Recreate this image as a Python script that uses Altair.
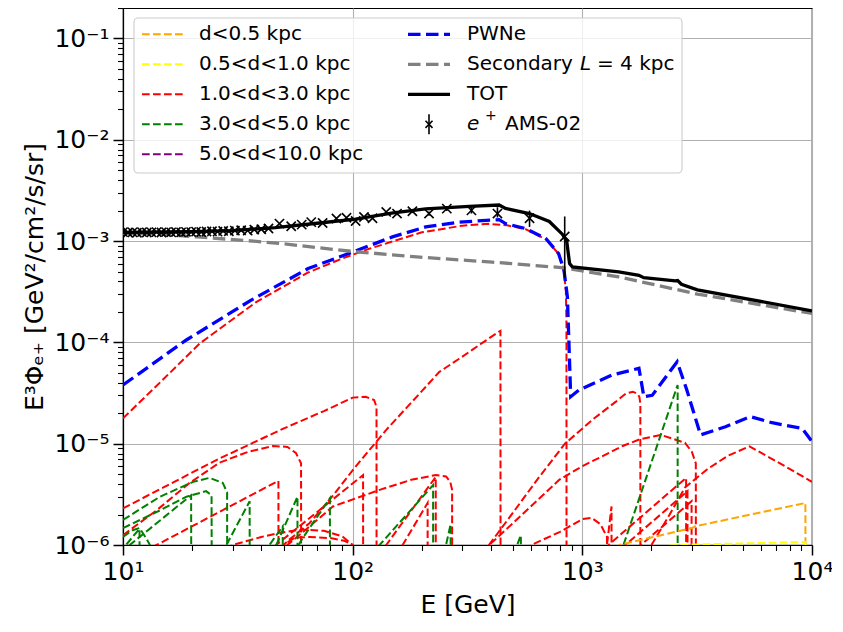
import altair as alt
import pandas as pd

FONT = "DejaVu Sans"

# ---------------- data ----------------
# total model (black)
tot = [(10, 1.22e-3), (20, 1.24e-3), (30, 1.27e-3), (46, 1.36e-3), (70, 1.5e-3), (103, 1.65e-3),
       (150, 1.9e-3), (208, 2.08e-3), (322, 2.2e-3), (434, 2.27e-3), (463, 2.1e-3), (588, 1.87e-3),
       (718, 1.56e-3), (818, 1.17e-3), (855, 1.0e-3), (880, 6.0e-4), (905, 5.56e-4), (1440, 4.97e-4),
       (1764, 4.6e-4), (1850, 4.35e-4), (2540, 4.05e-4), (2600, 4.08e-4), (2700, 3.75e-4),
       (3170, 3.3e-4), (10000, 2.05e-4)]

# secondary positrons (grey)
secondary = [(10, 1.2e-3), (15, 1.17e-3), (21, 1.1e-3), (37, 1.0e-3), (50, 9.4e-4), (100, 7.9e-4),
             (196, 6.95e-4), (405, 6.2e-4), (810, 5.48e-4), (1440, 4.43e-4), (3170, 3.0e-4),
             (10000, 1.93e-4)]

# sum of PWNe (blue)
pwne = [(10, 3.8e-5), (18.8, 1.05e-4), (36, 2.6e-4), (64, 5.36e-4), (100, 7.8e-4), (149, 1.1e-3),
        (208, 1.38e-3), (291, 1.54e-3), (434, 1.63e-3), (463, 1.49e-3), (566, 1.33e-3),
        (694, 1.06e-3), (788, 7.53e-4), (832, 5.16e-4), (861, 2.81e-4), (890, 2.91e-5),
        (967, 3.39e-5), (1346, 4.76e-5), (1764, 5.55e-5), (1854, 2.9e-5), (2014, 3.0e-5),
        (2588, 6.44e-5), (2851, 3.39e-5), (3271, 1.22e-5), (4200, 1.47e-5), (5396, 1.85e-5),
        (6698, 1.61e-5), (9056, 1.42e-5), (10000, 1.05e-5)]

# single sources, 1.0 < d < 3.0 kpc (red)
red_main = [(10, 1.78e-5), (14.7, 4.15e-5), (21.6, 9.77e-5), (38, 2.5e-4), (64, 4.9e-4), (90, 6.73e-4),
            (118, 8.4e-4), (200, 1.22e-3), (300, 1.42e-3), (390, 1.48e-3), (470, 1.43e-3),
            (566, 1.31e-3), (694, 1.04e-3), (788, 7.5e-4), (832, 5.0e-4), (848, 3.2e-4),
            (853, 1.5e-4), (854, 1e-9)]
red_a = [(10, 2.3e-6), (15, 3.7e-6), (25.5, 6.9e-6), (49.6, 1.4e-5), (75, 2.1e-5), (100, 2.85e-5),
         (114, 2.9e-5), (124, 2.7e-5), (127, 2.3e-5), (127.2, 1e-9)]
red_b = [(10, 1.25e-6), (14, 2.2e-6), (19.5, 4.1e-6), (26.3, 6.5e-6), (35, 8.3e-6), (45, 9.5e-6),
         (52, 9.3e-6), (56.6, 8.1e-6), (59.6, 6.4e-6), (59.8, 1e-9)]
red_c = [(10, 6.6e-7), (14, 1e-6), (47.5, 4.3e-6), (47.7, 1e-9)]
red_d = [(45, 8e-7), (53, 1.13e-6), (65, 1.65e-6), (82, 3.07e-6), (103, 5.95e-6), (127, 1.05e-5),
         (140, 1.37e-5), (200, 3.3e-5), (238, 5.1e-5), (291, 6.9e-5), (360, 9.6e-5),
         (434, 1.28e-4), (440, 1.3e-4), (441, 1e-9)]
red_e1 = [(28, 9e-7), (30, 1e-6), (40, 1.2e-6), (48, 1.32e-6), (60, 1.42e-6), (75, 1.38e-6),
          (90, 1.22e-6), (100, 1e-6), (103, 8e-7)]
red_e2 = [(48, 9e-7), (50, 1e-6), (56, 1.18e-6), (65, 1.2e-6), (80, 1.17e-6), (92, 1.1e-6),
          (100, 1e-6), (102, 8e-7)]
red_f = [(42, 8e-7), (46.4, 1e-6), (58.6, 1.53e-6), (111, 4.9e-6), (111.3, 1e-9)]
red_g = [(48, 8e-7), (52, 1e-6), (65, 1.53e-6), (82, 2.4e-6), (131, 3.5e-6), (180, 4.4e-6),
         (230, 4.9e-6), (255, 4.75e-6), (266, 4.2e-6), (271, 3.5e-6), (271.5, 1e-9)]
red_n = [(130, 8e-7), (140, 1e-6), (230, 4.7e-6), (230.5, 1e-9)]
red_l = [(155, 8e-7), (165, 1e-6), (212, 2.6e-6), (212.5, 1e-9)]
red_h = [(370, 8e-7), (392, 1e-6), (500, 2.1e-6), (640, 4.5e-6), (840, 1.0e-5), (1105, 1.72e-5),
         (1400, 2.6e-5), (1546, 3.13e-5), (1660, 3.26e-5), (1740, 3.1e-5), (1771, 2.9e-5),
         (1789, 2.5e-5), (1790, 1e-9)]
red_i = [(370, 8.5e-7), (393, 1e-6), (500, 1.65e-6), (793, 4.4e-6), (1000, 6.0e-6), (1190, 7.3e-6),
         (1500, 9.5e-6), (1770, 1.1e-5), (2200, 1.22e-5), (2800, 1.02e-5), (3000, 8.3e-6),
         (3120, 6.4e-6), (3125, 1e-9)]
red_j = [(1900, 8e-7), (2000, 1e-6), (2400, 2e-6), (2800, 3.7e-6), (3500, 5.6e-6), (4300, 7.6e-6),
         (5340, 9.4e-6), (7000, 6.7e-6), (10000, 4.2e-6)]
red_k = [(560, 9e-7), (600, 1e-6), (800, 1.35e-6), (1000, 1.8e-6), (1100, 1.85e-6), (1200, 1.6e-6),
         (1280, 1.2e-6), (1300, 1e-9)]
red_s = [(1260, 8e-7), (1280, 1e-6), (1340, 2.4e-6), (1342, 1e-9)]
red_l1 = [(1250, 9e-7), (1300, 1e-6), (2830, 4.6e-6), (2832, 1e-9)]
red_l2 = [(1480, 9e-7), (1540, 1e-6), (2870, 3.4e-6), (2872, 1e-9)]
red_l3 = [(1720, 9e-7), (1800, 1e-6), (2990, 2.7e-6), (2992, 1e-9)]

# single sources, 3.0 < d < 5.0 kpc (green)
green_1 = [(10, 1.77e-6), (14.5, 3.0e-6), (20.2, 4.2e-6), (23.8, 4.6e-6), (27.2, 4.1e-6),
           (28.4, 3.3e-6), (28.5, 1e-9)]
green_2 = [(10, 1.47e-6), (14.5, 2.2e-6), (18.9, 3.0e-6), (23, 3.4e-6), (24.3, 3.1e-6), (24.5, 1e-9)]
green_3 = [(10, 8e-7), (10.7, 1e-6), (19.8, 3.1e-6), (19.9, 1e-9)]
green_4 = [(10, 1.2e-6), (11, 1.4e-6), (11.8, 1.47e-6), (12.6, 1.17e-6), (13.1, 1e-6), (13.4, 7e-7)]
green_5 = [(10, 8e-7), (10.3, 1e-6), (11.8, 1.45e-6), (11.9, 1e-9)]
green_6 = [(27, 8e-7), (28.2, 1e-6), (35.6, 2.7e-6), (35.7, 1e-9)]
green_7 = [(42, 8e-7), (43.4, 1e-6), (49.6, 1.53e-6), (49.8, 1e-9)]
green_8 = [(44, 8e-7), (46.5, 1e-6), (57.5, 3e-6), (57.6, 1e-9)]
green_9 = [(55, 8e-7), (60, 1.13e-6), (79.6, 2.9e-6), (79.8, 1e-9)]
green_10 = [(120, 8e-7), (131, 1e-6), (224, 3.9e-6), (224.5, 1e-9)]
green_11 = [(250, 8e-7), (255, 1e-6), (267, 1.6e-6), (267.3, 1e-9)]
green_12 = [(510, 8e-7), (520, 1e-6), (540, 1.25e-6), (541, 1e-9)]
green_13 = [(1450, 8e-7), (1510, 1e-6), (2600, 3.8e-5), (2602, 1e-9)]

# d < 0.5 kpc (orange) and 0.5 < d < 1.0 kpc (yellow)
orange_1 = [(1400, 9e-7), (1450, 1e-6), (3000, 1.47e-6), (3100, 1.53e-6), (9360, 2.6e-6), (9400, 1e-9)]
yellow_1 = [(2400, 9.9e-7), (3000, 1.01e-6), (9360, 1.07e-6), (9400, 1e-9)]

# AMS-02 positrons
ams_E = [10.0, 10.5, 11.0, 11.5, 12.1, 12.7, 13.3, 14.0, 14.7, 15.4, 16.2, 17.0, 17.9, 18.8, 19.8,
         20.8, 21.9, 23.1, 24.4, 25.8, 27.3, 28.9, 30.7, 32.7, 34.9, 37.3, 40.0, 43.0, 48.0, 54.0,
         60.0, 66.0, 74.0, 85.0, 94.0, 103.0, 112.0, 122.0, 140.0, 156.0, 182.0, 215.0, 257.0,
         329.0, 427.0, 589.0, 838.0]
ams_F = [1.225e-3, 1.215e-3, 1.22e-3, 1.21e-3, 1.225e-3, 1.215e-3, 1.22e-3, 1.225e-3, 1.215e-3,
         1.225e-3, 1.22e-3, 1.23e-3, 1.22e-3, 1.235e-3, 1.225e-3, 1.24e-3, 1.23e-3, 1.245e-3,
         1.25e-3, 1.24e-3, 1.26e-3, 1.25e-3, 1.27e-3, 1.28e-3, 1.27e-3, 1.30e-3, 1.31e-3, 1.33e-3,
         1.49e-3, 1.40e-3, 1.455e-3, 1.54e-3, 1.51e-3, 1.67e-3, 1.70e-3, 1.58e-3, 1.73e-3, 1.68e-3,
         1.94e-3, 1.87e-3, 1.97e-3, 1.87e-3, 2.09e-3, 2.01e-3, 1.87e-3, 1.68e-3, 1.11e-3]
err_E = [156.0, 182.0, 215.0, 257.0, 329.0, 427.0, 589.0, 838.0]
err_lo = [1.80e-3, 1.89e-3, 1.78e-3, 1.98e-3, 1.87e-3, 1.71e-3, 1.38e-3, 4.35e-4]
err_hi = [1.94e-3, 2.05e-3, 1.96e-3, 2.20e-3, 2.15e-3, 2.16e-3, 2.00e-3, 1.75e-3]

# tick labels
x_tick_labels = {10: "10¹", 100: "10²", 1000: "10³", 10000: "10⁴"}
y_tick_labels = {1e-6: "10⁻⁶", 1e-5: "10⁻⁵", 1e-4: "10⁻⁴", 1e-3: "10⁻³", 1e-2: "10⁻²", 1e-1: "10⁻¹"}

legend_left = ["d<0.5 kpc", "0.5<d<1.0 kpc", "1.0<d<3.0 kpc", "3.0<d<5.0 kpc", "5.0<d<10.0 kpc"]
legend_left_colors = ["orange", "yellow", "red", "green", "purple"]

# ---------------- helpers ----------------
x_ticks = [float(f"{d}e{k}") for k in range(1, 4) for d in range(1, 10)] + [1e4]
y_ticks = [float(f"{d}e{k}") for k in range(-6, -1) for d in range(1, 10)] + [1e-1, 2e-1]

MAJOR = "abs(log(datum.value)/LN10 - round(log(datum.value)/LN10)) < 0.001"


def label_expr(mapping):
    expr = "''"
    for v, s in mapping.items():
        expr = f"abs(datum.value - {v!r}) < {v!r}*1e-6 ? '{s}' : " + expr
    return expr


def make_axis(mapping, ticks, label_pad, title_pad):
    return alt.Axis(
        values=ticks, labelExpr=label_expr(mapping), labelOverlap=False, labelFlush=False,
        labelPadding=label_pad, titlePadding=title_pad, grid=True,
        labelFont=FONT, titleFont=FONT, labelFontSize=25, titleFontSize=25,
        titleFontWeight="normal", titleColor="black", labelColor="black",
        tickSize={"condition": {"test": MAJOR, "value": 10}, "value": 5.5},
        tickWidth={"condition": {"test": MAJOR, "value": 1.5}, "value": 1.1},
        gridColor={"condition": {"test": MAJOR, "value": "#b0b0b0"}, "value": "rgba(255,255,255,0)"},
    )


x_axis = make_axis(x_tick_labels, x_ticks, 4, 8)
y_axis = make_axis(y_tick_labels, y_ticks, 4, 6)

xs = alt.Scale(type="log", domain=[10, 10000], nice=False)
ys = alt.Scale(type="log", domain=[1e-6, 0.2], nice=False)
X = alt.X("E:Q", scale=xs, axis=x_axis, title="E [GeV]")
Y = alt.Y("F:Q", scale=ys, axis=y_axis, title="E³Φₑ₊ [GeV²/cm²/s/sr]")


def frame(name, curves):
    rows = []
    for c, pts in enumerate(curves):
        for i, (e, f) in enumerate(pts):
            rows.append({"E": e, "F": f, "cid": f"{name}{c}", "i": i})
    return pd.DataFrame(rows)


def lines(name, curves, color, dash, width):
    kw = dict(color=color, strokeWidth=width, clip=True)
    if dash:
        kw["strokeDash"] = dash
    return alt.Chart(frame(name, curves)).mark_line(**kw).encode(
        x=X, y=Y, detail="cid:N", order="i:Q")


THIN = [7.7, 3.3]
THICK = [12.5, 5.5]

layers = [
    lines("red", [red_main, red_a, red_b, red_c, red_d, red_e1, red_e2, red_f, red_g, red_n, red_l,
                  red_h, red_i, red_j, red_k, red_s, red_l1, red_l2, red_l3], "red", THIN, 2),
    lines("green", [green_1, green_2, green_3, green_4, green_5, green_6, green_7, green_8, green_9,
                    green_10, green_11, green_12, green_13], "green", THIN, 2),
    lines("orange", [orange_1], "orange", THIN, 2),
    lines("yellow", [yellow_1], "yellow", THIN, 2),
    lines("pwne", [pwne], "blue", THICK, 3.3),
    lines("sec", [secondary], "grey", THICK, 3.3),
    lines("tot", [tot], "black", None, 3.3),
]

ams_df = pd.DataFrame({"E": ams_E, "F": ams_F})
err_df = pd.DataFrame({"E": err_E, "lo": err_lo, "hi": err_hi})
layers.append(alt.Chart(err_df).mark_rule(color="black", strokeWidth=1.6, clip=True).encode(
    x=X, y=alt.Y("lo:Q", scale=ys), y2="hi:Q"))
layers.append(alt.Chart(ams_df).mark_point(
    shape="M-1,-1L1,1M-1,1L1,-1", size=85, filled=False, color="black", strokeWidth=1.6,
    opacity=1, clip=True).encode(x=X, y=Y))

# ---------------- legend (drawn in the upper-left corner) ----------------
one = pd.DataFrame({"k": [0]})


def leg_rule(x1, x2, y, color, dash, width, y2=None):
    kw = dict(color=color, strokeWidth=width)
    if dash:
        kw["strokeDash"] = dash
    enc = dict(x=alt.value(x1), x2=alt.value(x2), y=alt.value(y))
    if y2 is not None:
        enc["y2"] = alt.value(y2)
    return alt.Chart(one).mark_rule(**kw).encode(**enc)


def leg_text(x, y, txt, size=20, **kw):
    return alt.Chart(one).mark_text(align="left", baseline="middle", font=FONT, fontSize=size,
                                    color="black", **kw).encode(
        x=alt.value(x), y=alt.value(y), text=alt.value(txt))


layers.append(alt.Chart(one).mark_rect(fill="white", fillOpacity=0.8, stroke="#cccccc",
                                       strokeWidth=1.1, cornerRadius=4).encode(
    x=alt.value(11), x2=alt.value(559), y=alt.value(10), y2=alt.value(165)))

rows_y = [26.3, 56.3, 86.3, 116.3, 146.3]
for lab, col, yy in zip(legend_left, legend_left_colors, rows_y):
    layers.append(leg_rule(19, 60, yy, col, THIN, 2))
    layers.append(leg_text(76, yy, lab))

layers.append(leg_rule(285, 327, rows_y[0], "blue", THICK, 3.3))
layers.append(leg_text(344, rows_y[0], "PWNe"))
layers.append(leg_rule(285, 327, rows_y[1], "grey", THICK, 3.3))
layers.append(leg_text(344, rows_y[1], "Secondary"))
layers.append(leg_text(457, rows_y[1], "L", fontStyle="italic"))
layers.append(leg_text(474, rows_y[1], "= 4 kpc"))
layers.append(leg_rule(285, 327, rows_y[2], "black", None, 3.3))
layers.append(leg_text(344, rows_y[2], "TOT"))
layers.append(leg_rule(306, 306, rows_y[3] - 10, "black", None, 1.6, y2=rows_y[3] + 10))
layers.append(alt.Chart(one).mark_point(shape="M-1,-1L1,1M-1,1L1,-1", size=50, filled=False,
                                        color="black", strokeWidth=1.6, opacity=1).encode(
    x=alt.value(306), y=alt.value(rows_y[3])))
layers.append(leg_text(344, rows_y[3], "e", fontStyle="italic"))
layers.append(leg_text(362, rows_y[3] - 8, "+", size=14))
layers.append(leg_text(382, rows_y[3], "AMS-02"))

chart = alt.layer(*layers).properties(
    width=689, height=537, autosize="none", background="white",
    padding={"left": 115, "top": 0, "right": 20, "bottom": 80},
).configure_view(stroke="black", strokeWidth=1.2).configure_axis(
    domainColor="black", domainWidth=1.2, tickColor="black", labelColor="black",
    labelFont=FONT, titleFont=FONT, labelFontSize=25, titleFontSize=25,
    titleFontWeight="normal", titleColor="black", gridWidth=1.1,
)

chart.save("out.html", embed_options={"renderer": "svg", "actions": False})
